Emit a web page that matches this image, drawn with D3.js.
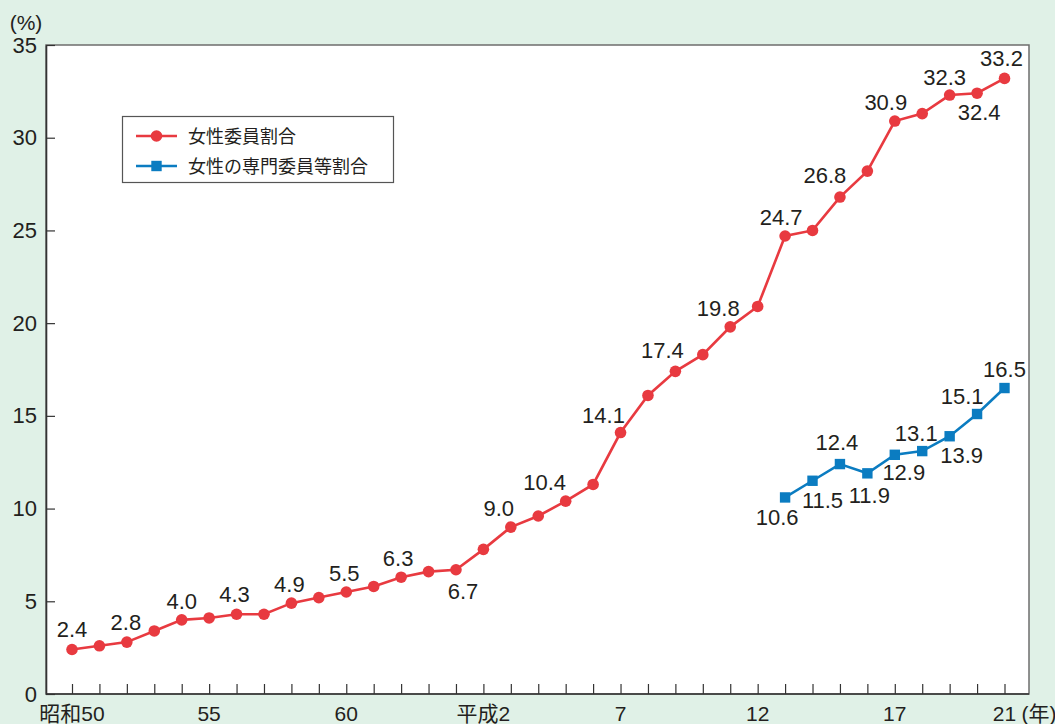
<!DOCTYPE html>
<html lang="ja">
<head>
<meta charset="utf-8">
<title>女性委員割合の推移</title>
<script src="https://cdn.jsdelivr.net/npm/d3@7"></script>
<style>
  html, body { margin: 0; padding: 0; background: #e0f1e7; }
  svg { display: block; }
  text { font-family: "Liberation Sans", Arial, "Noto Sans CJK JP", sans-serif; fill: #231f20; }
</style>
</head>
<body>
<svg id="chart" width="1055" height="724"></svg>
<script>
// Fiscal years, 昭和50 (1975) through 平成21 (2009)
const years = [1975, 1976, 1977, 1978, 1979, 1980, 1981, 1982, 1983, 1984,
               1985, 1986, 1987, 1988, 1989, 1990, 1991, 1992, 1993, 1994,
               1995, 1996, 1997, 1998, 1999, 2000, 2001, 2002, 2003, 2004,
               2005, 2006, 2007, 2008, 2009];

// 女性委員割合 (%)
const memberRate = [2.4, 2.6, 2.8, 3.4, 4.0, 4.1, 4.3, 4.3, 4.9, 5.2,
                    5.5, 5.8, 6.3, 6.6, 6.7, 7.8, 9.0, 9.6, 10.4, 11.3,
                    14.1, 16.1, 17.4, 18.3, 19.8, 20.9, 24.7, 25.0, 26.8, 28.2,
                    30.9, 31.3, 32.3, 32.4, 33.2];

// 女性の専門委員等割合 (%)
const specialYears = [2001, 2002, 2003, 2004, 2005, 2006, 2007, 2008, 2009];
const specialRate = [10.6, 11.5, 12.4, 11.9, 12.9, 13.1, 13.9, 15.1, 16.5];

// Labelled x ticks
const tickYears = [1975, 1980, 1985, 1990, 1995, 2000, 2005, 2009];
const tickLabels = ["昭和50", "55", "60", "平成2", "7", "12", "17", "21"];
const yTicks = [0, 5, 10, 15, 20, 25, 30, 35];

const seriesNames = ["女性委員割合", "女性の専門委員等割合"];

// Value labels: which points get one, and where the text sits (dx, baseline dy)
const memberLabelPos = new Map([
  [1975, [0, -12]], [1977, [-1, -12]], [1979, [0, -11]], [1981, [-2, -12]],
  [1983, [-2, -11]], [1985, [-2, -11]], [1987, [-3, -11]], [1989, [7, 29]],
  [1991, [-12, -11]], [1993, [-21, -11]], [1995, [-17, -10]], [1997, [-13, -13]],
  [1999, [-12, -11]], [2001, [-4, -11]], [2003, [-15, -14]], [2005, [-9, -11]],
  [2007, [-5, -10]], [2008, [2, 27]], [2009, [-3, -12]]
]);
const specialLabelPos = new Map([
  [2001, [-8, 28]], [2002, [10, 27]], [2003, [-3, -14]], [2004, [2, 30]],
  [2005, [9, 25]], [2006, [-6, -10]], [2007, [12, 27]], [2008, [-15, -10]],
  [2009, [0, -11]]
]);

const RED = "#e83a40";
const BLUE = "#0b7cc1";

const svg = d3.select("#chart");
const plot = { left: 46, right: 1029, top: 45, bottom: 694 };

const x = d3.scaleLinear().domain([1975, 2009]).range([72, 1004.5]);
const y = d3.scaleLinear().domain([0, 35]).range([plot.bottom, plot.top]);

// Plot background and frame
svg.append("rect")
  .attr("x", plot.left).attr("y", plot.top)
  .attr("width", plot.right - plot.left).attr("height", plot.bottom - plot.top)
  .attr("fill", "#fff").attr("stroke", "#6d6d6d").attr("stroke-width", 1.5);

// Y axis: inward ticks, labels on the left
const yAxis = d3.axisLeft(y).tickValues(yTicks).tickSizeInner(-9).tickSizeOuter(0).tickPadding(9);
const gy = svg.append("g").attr("transform", `translate(${plot.left},0)`).call(yAxis);
gy.select(".domain").attr("stroke", "#333").attr("stroke-width", 1.6);
gy.selectAll(".tick line").attr("stroke", "#333").attr("stroke-width", 1.2);
gy.selectAll(".tick text").attr("font-size", 22).attr("fill", "#231f20")
  .attr("font-family", "Liberation Sans, Arial, sans-serif");

// X axis: a short inward tick for every year
const xAxis = d3.axisBottom(x).tickValues(years).tickSizeInner(-10).tickSizeOuter(0).tickFormat("");
const gx = svg.append("g").attr("transform", `translate(0,${plot.bottom})`).call(xAxis);
gx.select(".domain").remove();
gx.selectAll(".tick line").attr("stroke", "#333").attr("stroke-width", 1.2);
svg.append("line")
  .attr("x1", plot.left).attr("x2", plot.right)
  .attr("y1", plot.bottom).attr("y2", plot.bottom)
  .attr("stroke", "#333").attr("stroke-width", 1.6);

// Era-year labels under the axis
svg.append("g").selectAll("text")
  .data(tickYears)
  .join("text")
  .attr("x", d => x(d))
  .attr("y", 721)
  .attr("text-anchor", "middle")
  .attr("font-size", 21)
  .text((d, i) => tickLabels[i]);

svg.append("text")
  .attr("x", x(2009) + 17).attr("y", 721)
  .attr("font-size", 21)
  .text("(年)");

// Unit label
svg.append("text")
  .attr("x", 26).attr("y", 30)
  .attr("text-anchor", "middle")
  .attr("font-size", 21)
  .text("(%)");

const line = d3.line().x(d => x(d[0])).y(d => y(d[1]));

// 女性委員割合
const memberData = years.map((yr, i) => [yr, memberRate[i]]);
svg.append("path")
  .datum(memberData)
  .attr("d", line)
  .attr("fill", "none")
  .attr("stroke", RED)
  .attr("stroke-width", 2.6);
svg.append("g").selectAll("circle")
  .data(memberData)
  .join("circle")
  .attr("cx", d => x(d[0]))
  .attr("cy", d => y(d[1]))
  .attr("r", 5.8)
  .attr("fill", RED);

// 女性の専門委員等割合
const specialData = specialYears.map((yr, i) => [yr, specialRate[i]]);
svg.append("path")
  .datum(specialData)
  .attr("d", line)
  .attr("fill", "none")
  .attr("stroke", BLUE)
  .attr("stroke-width", 2.6);
svg.append("g").selectAll("rect")
  .data(specialData)
  .join("rect")
  .attr("x", d => x(d[0]) - 5.2)
  .attr("y", d => y(d[1]) - 5.2)
  .attr("width", 10.4)
  .attr("height", 10.4)
  .attr("fill", BLUE);

// Value labels
function addLabels(data, posMap) {
  svg.append("g").selectAll("text")
    .data(data.filter(d => posMap.has(d[0])))
    .join("text")
    .attr("x", d => x(d[0]) + posMap.get(d[0])[0])
    .attr("y", d => y(d[1]) + posMap.get(d[0])[1])
    .attr("text-anchor", "middle")
    .attr("font-size", 22)
    .text(d => d[1].toFixed(1));
}
addLabels(memberData, memberLabelPos);
addLabels(specialData, specialLabelPos);

// Legend
const legend = svg.append("g");
legend.append("rect")
  .attr("x", 122.5).attr("y", 116.5)
  .attr("width", 271).attr("height", 66)
  .attr("fill", "#fff").attr("stroke", "#555").attr("stroke-width", 1.2);

const legendRows = [
  { name: seriesNames[0], color: RED, shape: "circle" },
  { name: seriesNames[1], color: BLUE, shape: "square" }
];
legendRows.forEach((row, i) => {
  const cy = 136 + i * 30;
  legend.append("line")
    .attr("x1", 136).attr("x2", 177)
    .attr("y1", cy).attr("y2", cy)
    .attr("stroke", row.color).attr("stroke-width", 2.4);
  if (row.shape === "circle") {
    legend.append("circle").attr("cx", 156.5).attr("cy", cy).attr("r", 5.8).attr("fill", row.color);
  } else {
    legend.append("rect").attr("x", 151.3).attr("y", cy - 5.2)
      .attr("width", 10.4).attr("height", 10.4).attr("fill", row.color);
  }
  legend.append("text")
    .attr("x", 188).attr("y", cy + 7)
    .attr("font-size", 18)
    .attr("font-family", "Noto Sans CJK JP, sans-serif")
    .text(row.name);
});
</script>
</body>
</html>
